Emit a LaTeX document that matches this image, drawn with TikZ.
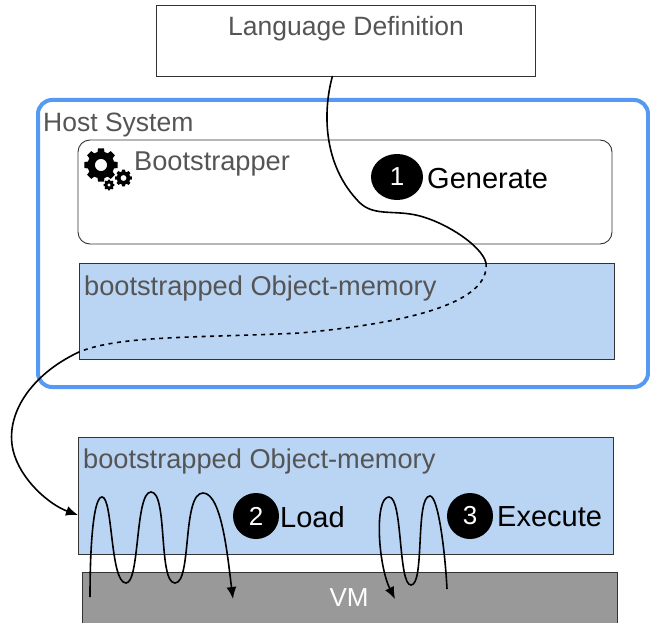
\documentclass[tikz,border=0pt]{standalone}
\usepackage{fontspec}
\setmainfont{Liberation Sans}
\usetikzlibrary{arrows,arrows.meta,positioning,calc,shapes.geometric}
\definecolor{myhostblue}{RGB}{85,153,243}
\definecolor{mymemblue}{RGB}{186,212,243}
\definecolor{myvmgray}{RGB}{153,153,153}
\definecolor{mytextgray}{RGB}{85,85,85}
\tikzset{>={Latex[length=12pt,width=10pt]}}
\tikzset{
  box/.style = {draw=black!80, line width=0.9pt, anchor=north west, outer sep=0pt, inner sep=0pt},
  membox/.style = {box, fill=mymemblue, minimum width=535, minimum height=96},
  caption/.style = {anchor=west, inner sep=0pt, text=mytextgray, font=\fontsize{26.5}{30}\selectfont},
  memcaption/.style = {caption, font=\fontsize{27.2}{30}\selectfont},
  action/.style = {anchor=west, inner sep=0pt, text=black, font=\fontsize{29}{32}\selectfont},
  badge/.style = {circle, fill=black, text=white, minimum size=46, inner sep=0pt, font=\fontsize{26}{30}\selectfont},
  flow/.style = {line width=1.6pt},
  gear/.pic = {
    \fill[even odd rule] (-15:7.9)
      \foreach \a in {0,45,...,315} {
        -- (\a-15:7.9) -- (\a-10:10) -- (\a+10:10) -- (\a+15:7.9)
      } -- cycle (0,0) circle (3.6);
  }
}
\begin{document}
\begin{tikzpicture}[x=1pt, y=-1pt]
    \useasboundingbox (0,0) rectangle (650,623);
    \node[box, minimum width=379, minimum height=71] (langdef) at (156,5) {};
    \node[caption] (langdeftext) at (228,29) {Language Definition};
    \node[box, draw=myhostblue, line width=4pt, rounded corners=14, minimum width=610, minimum height=287] (host) at (38,100) {};
    \node[caption] (hosttext) at (43,125) {Host System};
    \node[box, rounded corners=12, minimum width=534, minimum height=104] (bootstrapper) at (78,140) {};
    \node[memcaption] (bootstrappertext) at (134,164) {Bootstrapper};
    \pic[scale=1.7] (gearbig) at (101,165) {gear};
    \pic[scale=0.85] (gearmid) at (123.5,178) {gear};
    \pic[scale=0.55] (gearsmall) at (109,185) {gear};
    \node[membox] (memhost) at (79,263) {};
    \node[memcaption] (memhosttext) at (84,288) {bootstrapped Object-memory};
    \node[membox, minimum height=117] (memvm) at (78,437) {};
    \node[memcaption] (memvmtext) at (83,461) {bootstrapped Object-memory};
    \node[box, fill=myvmgray, minimum width=535, minimum height=60] (vm) at (82,572) {};
    \node[anchor=center, inner sep=0pt, text=white, font=\fontsize{26}{30}\selectfont] (vmtext) at (349,598) {VM};
    \node[badge, ellipse, minimum width=52, minimum height=46] (one) at (397,177) {1};
    \node[action] (generate) at (427,179) {Generate};
    \node[badge] (two) at (256,516) {2};
    \node[action] (load) at (280,517) {Load};
    \node[badge] (three) at (470,516) {3};
    \node[action] (execute) at (497,517) {Execute};
    % the way of the object memory
    \coordinate (enter) at ($(memhost.north west)+(407,0)$);
    \coordinate (leave) at ($(memhost.north west)+(0,89)$);
    \draw[flow] ($(langdef.south)+(-13,0)$) .. controls (323,110) and (322,165) .. (360,203)
        .. controls (373,215) and (390,211) .. (410,214)
        .. controls (440,218) and (482,245) .. (enter);
    \draw[flow, dash pattern=on 4pt off 4.5pt] (enter) .. controls (490,300) and (420,322) .. (300,333)
        .. controls (200,338) and (120,335) .. (leave);
    \draw[flow, ->] (leave) .. controls (30,375) and (5,415) .. (13,450)
        .. controls (20,480) and (50,505) .. (memvm.west |- 0,515);
    % load and execute coils
    \coordinate (loadstart) at (90,597);
    \coordinate (loadend) at (233,599);
    \draw[flow, ->] (loadstart) .. controls (90,540) and (94,497) .. (102,497)
        .. controls (113,497) and (110,583) .. (126,583)
        .. controls (140,583) and (135,492) .. (151,492)
        .. controls (168,492) and (158,583) .. (175,583)
        .. controls (192,583) and (182,493) .. (203,493)
        .. controls (222,493) and (228,560) .. (loadend);
    \coordinate (execstart) at (447,589);
    \coordinate (execend) at (395,599);
    \draw[flow, ->] (execstart) .. controls (445,550) and (438,496) .. (430,496)
        .. controls (415,496) and (425,585) .. (411,585)
        .. controls (398,585) and (403,497) .. (389,497)
        .. controls (374,497) and (378,565) .. (execend);
\end{tikzpicture}
\end{document}
